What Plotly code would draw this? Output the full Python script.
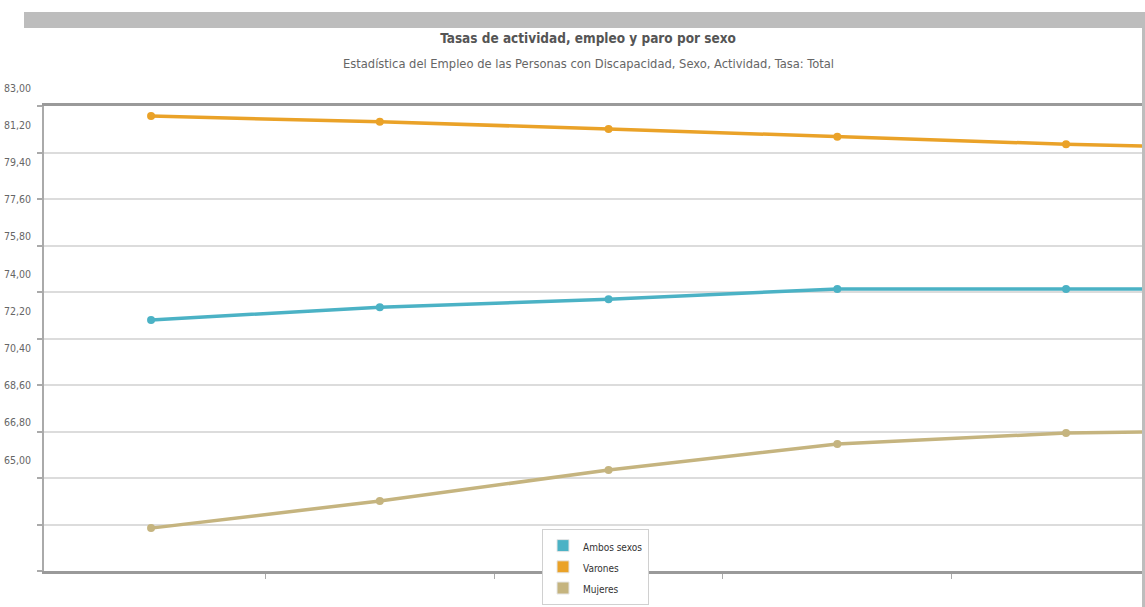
import plotly.graph_objects as go

# ---------------- data ----------------
years = ["2014", "2015", "2016", "2017", "2018", "2019"]
ambos = [74.72, 75.21, 75.52, 75.92, 75.92, 75.92]
varones = [82.61, 82.39, 82.11, 81.81, 81.52, 81.32]
mujeres = [66.66, 67.71, 68.91, 69.92, 70.34, 70.46]
series_names = ["Ambos sexos", "Varones", "Mujeres"]
y_tick_vals = [65.0, 66.8, 68.6, 70.4, 72.2, 74.0, 75.8, 77.6, 79.4, 81.2, 83.0]
y_tick_text = ["65,00", "66,80", "68,60", "70,40", "72,20", "74,00",
               "75,80", "77,60", "79,40", "81,20", "83,00"]
title_text = "Tasas de actividad, empleo y paro por sexo"
subtitle_text = ("Estadística del Empleo de las Personas con Discapacidad, "
                 "Sexo, Actividad, Tasa: Total")

# ---------------- style / layout ----------------
colors = ["#4bb2c5", "#EAA228", "#c5b47f"]
FONT = "Liberation Sans Narrow, DejaVu Sans Condensed, Arial Narrow, sans-serif"
W, H = 1145, 607
L, R, T, B = 44, 1142, 80, 571          # plotting region (pixels)
PW, PH = R - L, B - T
MAIN_TOP = 106                           # top of the gridded area


def px_x(x):
    return (x - L) / PW


def px_y(y):
    return (B - y) / PH


fig = go.Figure()

for name, vals, col in zip(series_names, [ambos, varones, mujeres], colors):
    fig.add_trace(go.Scatter(
        x=years, y=vals, name=name, mode="lines+markers",
        line=dict(color=col, width=3.5),
        marker=dict(color=col, size=8, symbol="circle"),
        showlegend=False, xaxis="x", yaxis="y",
    ))

# legend entries (square swatches), placed on the label axis
for name, col in zip(series_names, colors):
    fig.add_trace(go.Scatter(
        x=[None], y=[None],
        name='<span style="font-size:10px">' + name + "</span>",
        mode="markers",
        marker=dict(color=col, size=12, symbol="square",
                    line=dict(color="#e6e6e6", width=1)),
        showlegend=True, xaxis="x", yaxis="y2",
    ))

fig.update_layout(
    width=W, height=H,
    margin=dict(l=L, r=W - R, t=T, b=H - B, pad=0, autoexpand=False),
    paper_bgcolor="white",
    plot_bgcolor="rgba(0,0,0,0)",
    font=dict(family=FONT, color="#555"),
    title=dict(
        text="<b>" + title_text + "</b>",
        x=588 / W, xanchor="center", xref="container",
        y=1 - 38 / H, yanchor="middle", yref="container",
        font=dict(family=FONT, size=13.5, color="#555"),
    ),
    xaxis=dict(
        type="category", range=[-0.468, 4.332],
        tickson="boundaries", ticks="outside", ticklen=5,
        tickcolor="#aaa", tickwidth=1,
        showticklabels=False, showgrid=False, zeroline=False,
        showline=True, linecolor="#9a9a9a", linewidth=3, mirror=True,
        anchor="y",
    ),
    yaxis=dict(
        domain=[0, px_y(MAIN_TOP)], range=[65, 83],
        tickvals=y_tick_vals, showticklabels=False,
        ticks="outside", ticklen=5, tickcolor="#aaa", tickwidth=2,
        showgrid=True, gridcolor="#dcdcdc", gridwidth=2,
        showline=True, linecolor="#aaa", linewidth=2,
        zeroline=False, anchor="x",
    ),
    yaxis2=dict(
        domain=[px_y(460), px_y(88)], range=[65, 83],
        tickvals=y_tick_vals, ticktext=y_tick_text,
        ticks="", showgrid=False, showline=False, zeroline=False,
        anchor="x", side="left", ticklabelstandoff=12,
        tickfont=dict(family=FONT, size=10.5, color="#666"),
    ),
    legend=dict(
        x=px_x(542), xanchor="left", y=px_y(529), yanchor="top",
        bgcolor="white", bordercolor="#d0d0d0", borderwidth=1,
        font=dict(family=FONT, size=14, color="#333"),
        itemwidth=30, tracegroupgap=0,
    ),
    annotations=[dict(
        text=subtitle_text, x=px_x(588), y=px_y(63),
        xref="paper", yref="paper", xanchor="center", yanchor="middle",
        showarrow=False, font=dict(family=FONT, size=12.8, color="#666"),
    )],
    shapes=[
        dict(type="rect", xref="paper", yref="paper",
             x0=px_x(24), x1=px_x(1146), y0=px_y(28), y1=px_y(12),
             fillcolor="#bdbdbd", line=dict(width=0), layer="above"),
        dict(type="rect", xref="paper", yref="paper",
             x0=px_x(1142), x1=px_x(1146), y0=px_y(608), y1=px_y(28),
             fillcolor="#bdbdbd", line=dict(width=0), layer="above"),
    ],
)

fig.write_html("out.html")
